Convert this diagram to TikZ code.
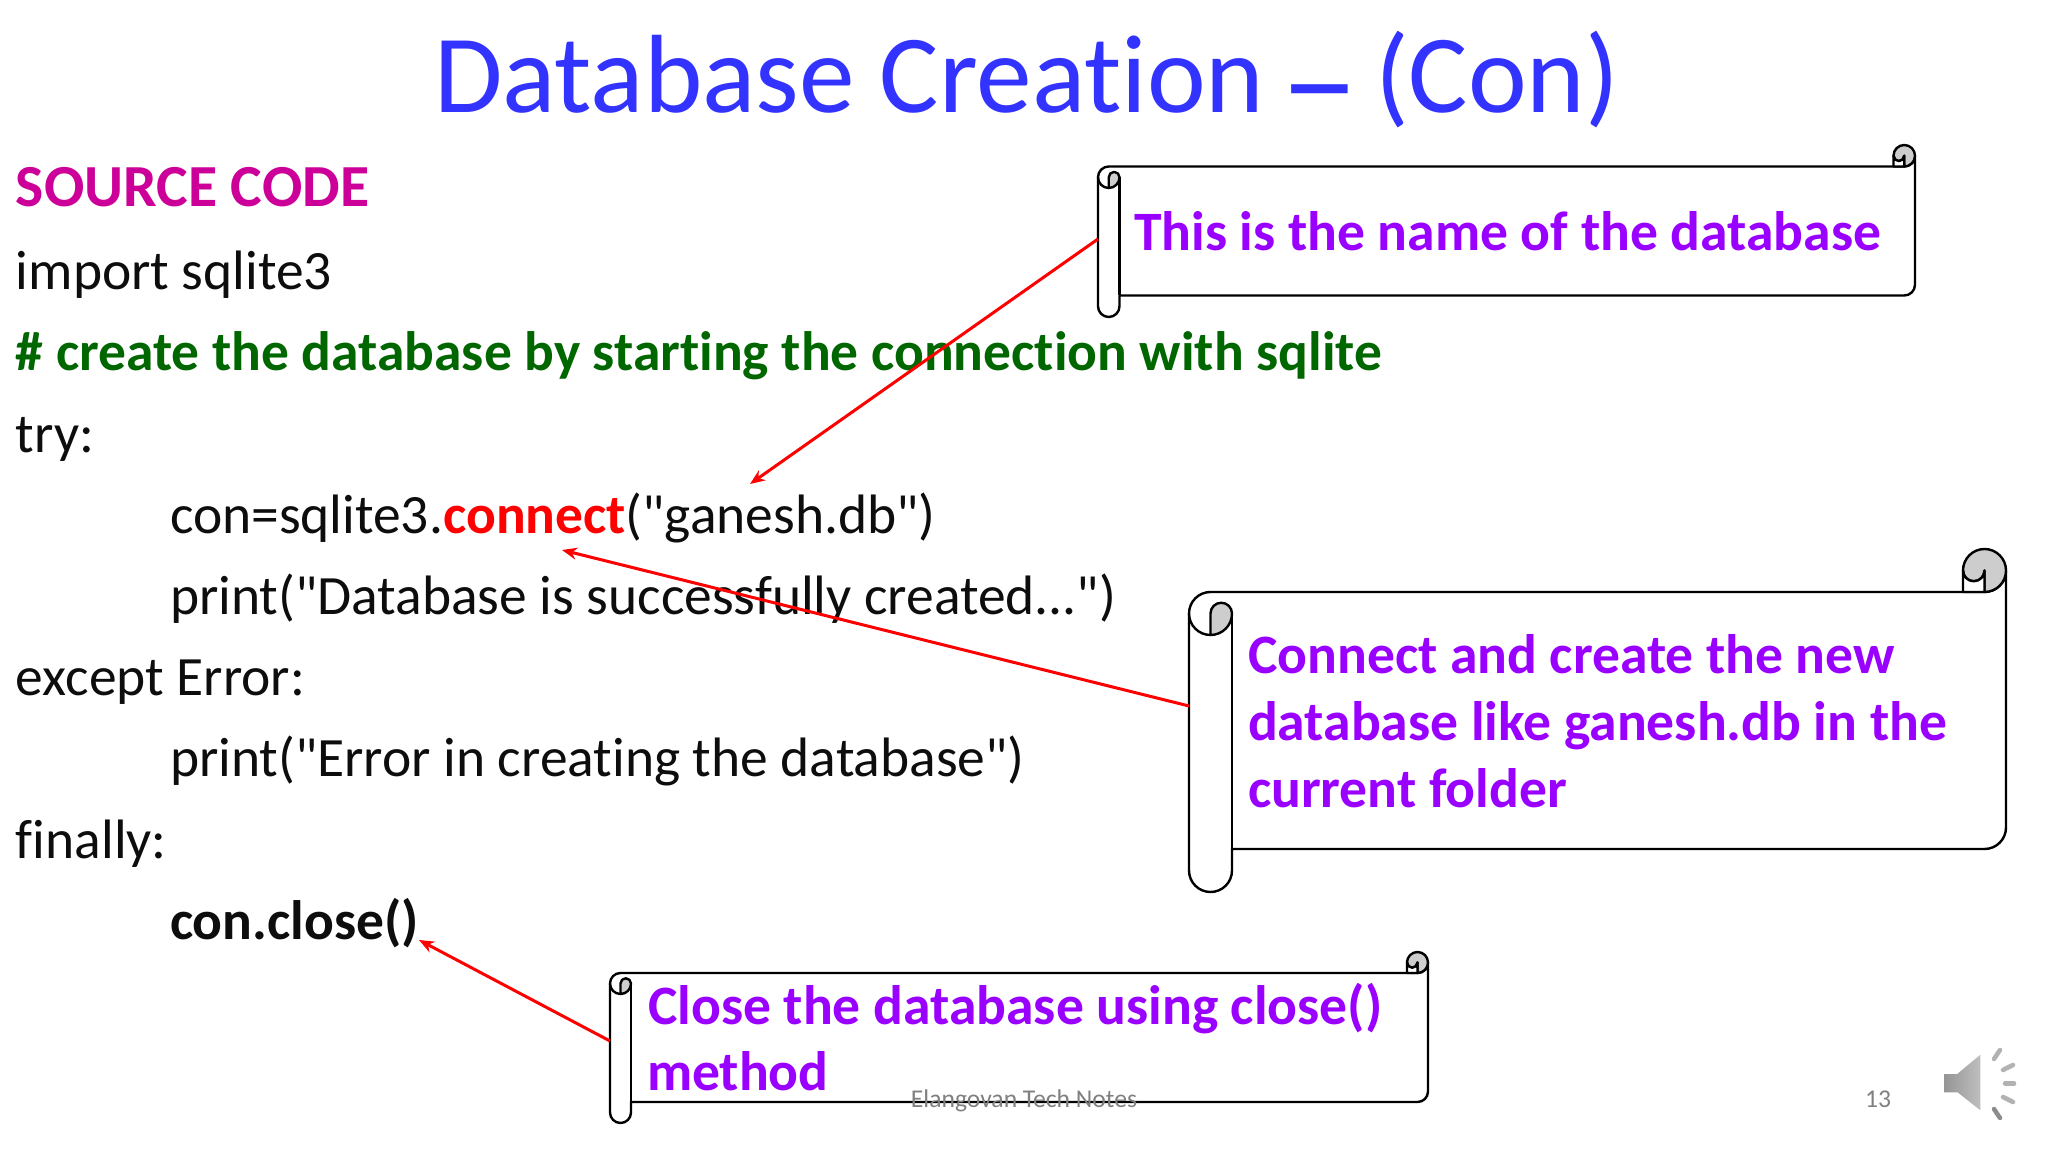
\documentclass[tikz,border=0pt]{standalone}
\usepackage{fontspec}
\usepackage{graphicx}
\setmainfont{Carlito}[Ligatures=CommonOff]
\usetikzlibrary{arrows.meta}
\definecolor{titleblue}{HTML}{3333FF}
\definecolor{srcmag}{HTML}{CC0099}
\definecolor{cmtgreen}{HTML}{006600}
\definecolor{callpurple}{HTML}{9900FF}
\definecolor{curlgray}{HTML}{CDCDCD}
\newcommand{\fs}[1]{\fontsize{#1pt}{#1pt}\selectfont}
\newcommand{\dq}{\XeTeXglyph\numexpr\XeTeXcharglyph"0022\relax}
\tikzset{
  x=1pt,y=1pt,
  txt/.style={anchor=base west,inner sep=0pt,outer sep=0pt},
  code/.style={txt,font=\fs{55.5},text=black!95},
  call/.style={txt,font=\fs{55.6}\bfseries,text=callpurple},
  pointer/.style={draw=red,line width=3pt,-{Stealth[length=15pt,width=12pt]}},
  rollline/.style={draw=black,line width=2.4pt,line join=round},
}
% \scrollshape{left}{right}{roll top y}{roll bottom y}{roll width}, y measured from the image top
\newcommand{\scrollshape}[5]{%
  \pgfmathsetmacro{\W}{#2-#1}\pgfmathsetmacro{\H}{#4-#3}\pgfmathsetmacro{\U}{#5}%
  \pgfmathsetmacro{\Ha}{\U/2}\pgfmathsetmacro{\Qa}{\U/4}%
  \begin{scope}[shift={(#1,1152-#4)}]
    \path[rollline,fill=white] (0,\H-1.5*\U) arc[start angle=180,end angle=90,radius=\Ha]
      -- (\W-\Ha,\H-\U) arc[start angle=-90,end angle=0,radius=\Ha]
      -- (\W,1.5*\U) arc[start angle=0,end angle=-90,radius=\Ha]
      -- (\U,\U) -- (\U,\Ha) arc[start angle=0,end angle=-180,radius=\Ha] -- cycle;
    \path[rollline,fill=curlgray] (\W-\U,\H-\Ha) arc[start angle=180,end angle=0,radius=\Ha]
      arc[start angle=0,end angle=-90,radius=\Ha] -- (\W-\Ha,\H-\Ha)
      arc[start angle=0,end angle=-180,radius=\Qa] -- cycle;
    \path[rollline,fill=white] (\W-\U,\H-\Ha) -- (\W-\U,\H-\U) -- (\W-\Ha,\H-\U) -- (\W-\Ha,\H-\Ha)
      arc[start angle=0,end angle=-180,radius=\Qa] -- cycle;
    \path[rollline,fill=curlgray] (\U,\H-1.5*\U) arc[start angle=0,end angle=180,radius=\Qa]
      -- (\Ha,\H-2*\U) arc[start angle=-90,end angle=0,radius=\Ha] -- cycle;
    \path[rollline] (0,\H-1.5*\U) arc[start angle=180,end angle=270,radius=\Ha];
    \path[rollline] (\U,\H-1.5*\U) -- (\U,\U);
  \end{scope}}
\begin{document}
\begin{tikzpicture}[x=1pt,y=1pt]
\useasboundingbox (0,0) rectangle (2048,1152);
\fill[white] (0,0) rectangle (2048,1152);

\node[txt,font=\fs{111.3},text=titleblue] (title) at (434,1152-113) {Database Creation \kern-9pt\raisebox{-17pt}{\scalebox{1.42}[1.3]{–}}\kern-9pt\ (Con)};

\node[txt,font=\fs{59.7}\bfseries,text=srcmag] (src) at (16,1152-207) {SOURCE CODE};
\node[code] (l1) at (16,1152-290) {import sqlite3};
\node[code,font=\fs{55.5}\bfseries,text=cmtgreen] (l2) at (16,1152-371) {\# create the database by starting the connection with sqlite};
\node[code] (l3) at (16,1152-453) {try:};
\node[code] (l4) at (170,1152-534) {con=sqlite3.\textcolor{red}{\textbf{connect}}(\dq ganesh.db\dq)};
\node[code] (l5) at (170,1152-615) {print(\dq Database is successfully created...\dq)};
\node[code] (l6) at (16,1152-696) {except Error:};
\node[code] (l7) at (170,1152-777) {print(\dq Error in creating the database\dq)};
\node[code] (l8) at (16,1152-859) {finally:};
\node[code,font=\fs{55.5}\bfseries] (l9) at (170,1152-939) {con.close()};

\scrollshape{1098}{1915}{145}{317}{21.5}
\scrollshape{1189}{2006}{549}{892}{43}
\scrollshape{610}{1428}{952}{1123}{21}

\node[call] (c1) at (1134,1152-251) {This is the name of the database};
\node[call] (c2a) at (1248,1152-674) {Connect and create the new};
\node[call] (c2b) at (1248,1152-741) {database like ganesh.db in the};
\node[call] (c2c) at (1248,1152-808) {current folder};
\node[call] (c3a) at (648,1152-1024) {Close the database using close()};
\node[call] (c3b) at (647,1152-1090) {method};

\coordinate (s1) at (1098,1152-239);
\coordinate (s2) at (1189,1152-706);
\coordinate (s3) at (610,1152-1041);
\coordinate (t1) at (750,1152-484);
\coordinate (t2) at (562,1152-550);
\coordinate (t3) at (419,1152-940);
\draw[pointer] (s1) -- (t1);
\draw[pointer] (s2) -- (t2);
\draw[pointer] (s3) -- (t3);

\node[anchor=base,inner sep=0pt,font=\fs{25.6},text=black!50] (foot) at (1024,1152-1107) {Elangovan Tech Notes};
\node[anchor=base,inner sep=0pt,font=\fs{25.6},text=black!50] (page) at (1878,1152-1107) {13};

% loudspeaker icon
\shade[left color=black!42,right color=black!25,draw=white,line width=1.5pt]
  (1943,1152-1073) -- (1957,1152-1073) -- (1981,1152-1053) -- (1981,1152-1112) -- (1957,1152-1093) -- (1943,1152-1093) -- cycle;
\begin{scope}[line width=4.5pt,line cap=round]
\draw[black!30] (1994,1152-1059) -- (2000,1152-1050);
\draw[black!30] (2003,1152-1070) -- (2013,1152-1065);
\draw[black!30] (2005,1152-1083.5) -- (2014,1152-1083.5);
\draw[black!30] (2003,1152-1097) -- (2013,1152-1102);
\draw[black!45] (1994,1152-1109) -- (2000,1152-1118);
\end{scope}
\end{tikzpicture}
\end{document}
